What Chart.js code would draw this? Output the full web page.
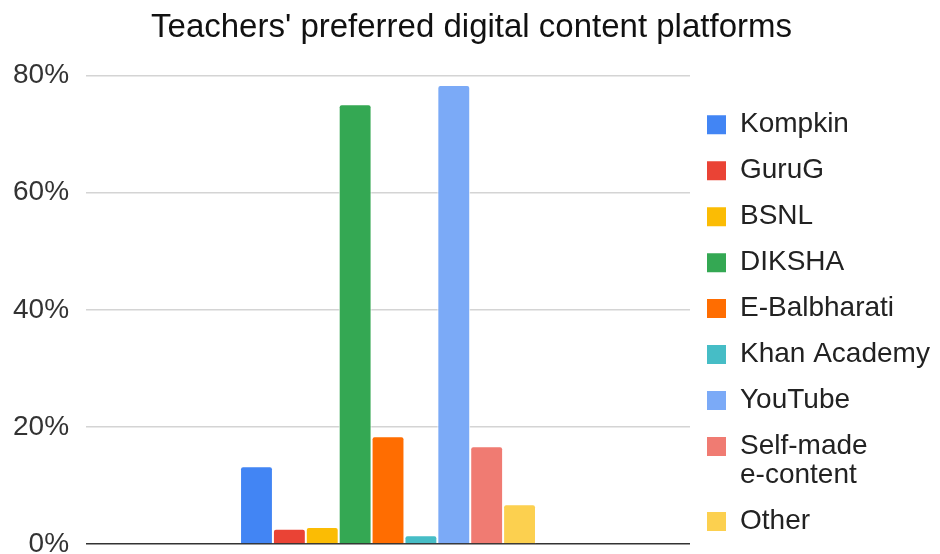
<!DOCTYPE html>
<html>
<head>
<meta charset="utf-8">
<script src="https://cdn.jsdelivr.net/npm/chart.js@4"></script>
<style>
  html, body { margin: 0; padding: 0; background: #fff; }
  #wrap { width: 940px; height: 554px; }
</style>
</head>
<body>
<div id="wrap"><canvas id="myChart" width="940" height="554"></canvas></div>
<script>
var platforms = ["Kompkin", "GuruG", "BSNL", "DIKSHA", "E-Balbharati", "Khan Academy", "YouTube", "Self-made e-content", "Other"];
var shares = [13.3, 2.6, 2.9, 75.1, 18.4, 1.5, 78.4, 16.7, 6.8];
var barColors = ["#4285f4", "#ea4335", "#fbbc04", "#34a853", "#ff6d01", "#46bdc6", "#7baaf7", "#f07b72", "#fcd04f"];
var yTicks = [0, 20, 40, 60, 80];

var font = "Arial, 'Liberation Sans', sans-serif";

var datasets = platforms.map(function (p, i) {
  return {
    label: p,
    data: [shares[i]],
    backgroundColor: barColors[i],
    borderColor: "#ffffff",
    borderWidth: 1,
    borderRadius: 3,
    borderSkipped: "bottom",
    categoryPercentage: 0.49,
    barPercentage: 1
  };
});

new Chart("myChart", {
  type: "bar",
  data: { labels: [""], datasets: datasets },
  options: {
    responsive: false,
    animation: false,
    layout: { padding: { left: 13, right: 10, bottom: 0.5, top: 0 } },
    plugins: {
      title: {
        display: true,
        text: "Teachers' preferred digital content platforms",
        color: "#111",
        font: { family: font, size: 33, weight: "normal" },
        padding: { top: 8, bottom: 28 }
      },
      legend: {
        position: "right",
        align: "end",
        maxWidth: 240,
        labels: {
          color: "#222",
          font: { family: font, size: 28, lineHeight: 1.035 },
          boxWidth: 19,
          boxHeight: 19,
          padding: 17,
          generateLabels: function (chart) {
            var items = Chart.defaults.plugins.legend.labels.generateLabels(chart);
            items.forEach(function (it) {
              // every label as lines, long ones broken at the first space
              if (it.text.length > 14) {
                var k = it.text.indexOf(" ");
                it.text = [it.text.slice(0, k), it.text.slice(k + 1)];
              } else {
                it.text = [it.text];
              }
              it.lineWidth = 0;
            });
            return items;
          }
        }
      },
      tooltip: { enabled: false }
    },
    scales: {
      x: { display: false },
      y: {
        min: 0,
        max: 80,
        afterBuildTicks: function (axis) {
          axis.ticks = yTicks.map(function (v) { return { value: v }; });
        },
        border: { display: false },
        grid: {
          drawTicks: true,
          tickLength: 17,
          tickColor: "rgba(0,0,0,0)",
          lineWidth: 1.5,
          color: function (c) { return c.tick.value === 0 ? "#333" : "#d4d4d4"; }
        },
        ticks: {
          padding: 0,
          color: "#333",
          font: { family: font, size: 28, lineHeight: 0.714 },
          callback: function (v) { return v + "%"; }
        }
      }
    }
  }
});
</script>
</body>
</html>
